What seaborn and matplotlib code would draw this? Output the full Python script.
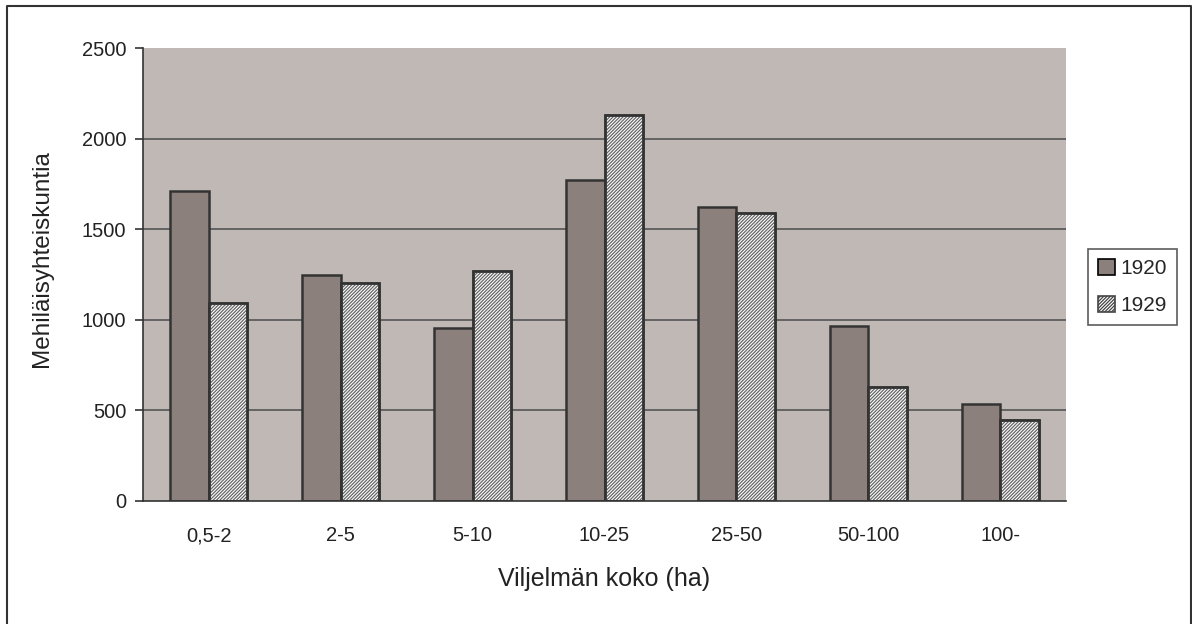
import pandas as pd
import matplotlib
matplotlib.use("Agg")
import matplotlib.pyplot as plt
import seaborn as sns
from matplotlib.patches import Rectangle, Patch
from matplotlib.lines import Line2D

# Data
categories = ['0,5-2', '2-5', '5-10', '10-25', '25-50', '50-100', '100-']
values_1920 = [1710, 1250, 955, 1770, 1625, 965, 535]
values_1929 = [1095, 1205, 1270, 2130, 1590, 630, 445]
years = ['1920', '1929']

df = pd.DataFrame({
    'koko': categories * 2,
    'vuosi': [years[0]] * len(categories) + [years[1]] * len(categories),
    'maara': values_1920 + values_1929,
})

sns.set_style('white')
plt.rcParams['font.family'] = ['Liberation Sans', 'DejaVu Sans']
plt.rcParams['hatch.linewidth'] = 0.9

bg = '#c0b8b5'
c1920 = '#8c807c'
edge = '#333333'
hatch_col = '#666666'

fig = plt.figure(figsize=(11.92, 6.24), dpi=100)
ax = fig.add_axes([143 / 1192, 1 - 501 / 624, (1066 - 143) / 1192, (501 - 48) / 624])
ax.set_facecolor(bg)

sns.barplot(data=df, x='koko', y='maara', hue='vuosi', order=categories,
            hue_order=years, palette=[c1920, 'white'], width=0.584,
            edgecolor=edge, linewidth=1.8, saturation=1, ax=ax, legend=False)

# fine grey hatch on the 1929 bars (overlay copies of the seaborn bars)
n = len(categories)
for p in ax.patches[n:2 * n]:
    h = Rectangle(p.get_xy(), p.get_width(), p.get_height(), facecolor='none',
                  edgecolor=hatch_col, hatch='//////////', linewidth=0, zorder=p.get_zorder() + 0.1)
    ax.add_patch(h)
    o = Rectangle(p.get_xy(), p.get_width(), p.get_height(), facecolor='none',
                  edgecolor=edge, linewidth=1.8, zorder=p.get_zorder() + 0.2)
    ax.add_patch(o)

ax.set_ylim(0, 2500)
ax.set_yticks(range(0, 2501, 500))
ax.set_xlim(-0.5, n - 0.5)
for y in range(500, 2001, 500):
    ax.axhline(y, color='#555555', lw=1.2, zorder=0.5)

ax.set_xticks(range(n))
ax.set_xticklabels(categories)
ax.set_xticks([i - 0.5 for i in range(n + 1)], minor=True)
ax.tick_params(axis='x', which='major', length=0, pad=18, labelsize=14.5, colors='#222222')
ax.tick_params(axis='x', which='minor', length=6, width=1.2, color='#333333', direction='out')
ax.tick_params(axis='y', length=6, width=1.2, color='#333333', direction='out', labelsize=14.5,
               labelcolor='#222222', left=True, pad=6)

for s in ['top', 'right']:
    ax.spines[s].set_visible(False)
for s in ['left', 'bottom']:
    ax.spines[s].set_color('#333333')
    ax.spines[s].set_linewidth(1.2)

ax.set_xlabel('Viljelmän koko (ha)', fontsize=18, color='#222222', labelpad=16)
ax.set_ylabel('Mehiläisyhteiskuntia', fontsize=17.5, color='#222222')
ax.yaxis.set_label_coords(-0.0975, 0.536)

handles = [Patch(facecolor=c1920, edgecolor='black', linewidth=1.2, label='1920'),
           Patch(facecolor='white', edgecolor='#444444', hatch='//////////', linewidth=1.2, label='1929')]
leg = fig.legend(handles=handles, loc='center left', bbox_to_anchor=(1088 / 1192, 1 - 287 / 624),
                 fontsize=15, frameon=True, fancybox=False, handlelength=0.8, handleheight=0.8,
                 handletextpad=0.25, labelspacing=0.85, borderpad=0.5, borderaxespad=0)
leg.get_frame().set_edgecolor('#333333')
leg.get_frame().set_linewidth(1.2)

# outer border of the chart (left, top, right)
fx = [7 / 1192, 7 / 1192, 1190.5 / 1192, 1190.5 / 1192]
fy = [0, 1 - 6 / 624, 1 - 6 / 624, 0]
fig.add_artist(Line2D(fx, fy, transform=fig.transFigure, color='#333333', linewidth=1.5))

fig.savefig('out.png', dpi=100)
